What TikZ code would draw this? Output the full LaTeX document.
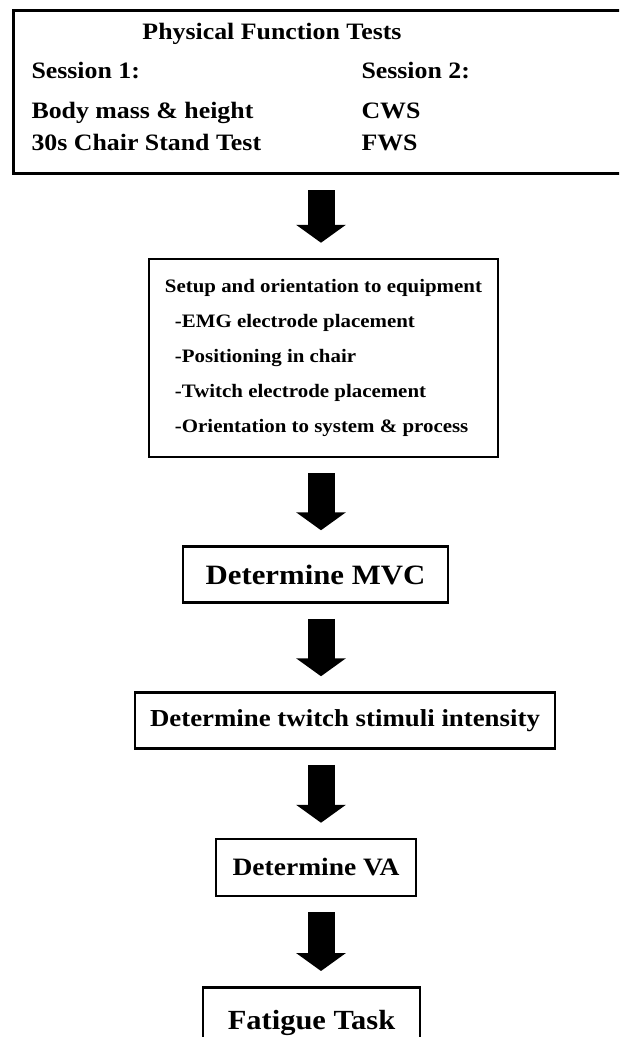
\documentclass[tikz,border=0pt]{standalone}
\usepackage{fontspec}
\setmainfont[FakeStretch=1.1]{Liberation Serif}
\usetikzlibrary{arrows.meta}

\begin{document}
\begin{tikzpicture}[x=1pt, y=-1pt,
  box/.style={draw, line width=2.5pt, inner sep=0pt},
  flowarrow/.style={line width=27pt, -{Triangle[width=49pt, length=18pt]}, shorten <=15pt, shorten >=15pt}]
%
\useasboundingbox (0,0) rectangle (619,1037);
\clip (0,0) rectangle (619,1037);
\coordinate (axis) at (321,0);

% tests of the two sessions
\node[box, line width=3pt, anchor=north west, minimum width=700pt, minimum height=163pt] (tests) at (12,9) {};
\node[font=\fontsize{23.5}{28}\selectfont\bfseries, anchor=base] (title) at (272,39) {Physical Function Tests};
\node[font=\fontsize{23.5}{28}\selectfont\bfseries, anchor=base west] (sone) at (28,78) {Session 1:};
\node[font=\fontsize{23.5}{28}\selectfont\bfseries, anchor=base west] (body) at (28,118) {Body mass \& height};
\node[font=\fontsize{23.5}{28}\selectfont\bfseries, anchor=base west] (chair) at (28,150) {30s Chair Stand Test};
\node[font=\fontsize{23.5}{28}\selectfont\bfseries, anchor=base west] (stwo) at (358,78) {Session 2:};
\node[font=\fontsize{23.5}{28}\selectfont\bfseries, anchor=base west] (cws) at (358,118) {CWS};
\node[font=\fontsize{23.5}{28}\selectfont\bfseries, anchor=base west] (fws) at (358,150) {FWS};

% steps
\node[box, minimum width=349pt, minimum height=198pt, align=left, font=\fontsize{19}{35}\selectfont\bfseries] (setup) at (323.5,358) {
    Setup and orientation to equipment \\
    \hspace*{10pt}-EMG electrode placement \\
    \hspace*{10pt}-Positioning in chair \\
    \hspace*{10pt}-Twitch electrode placement \\
    \hspace*{10pt}-Orientation to system \& process
};
\node[box, minimum width=265pt, minimum height=56pt, font=\fontsize{28}{32}\selectfont\bfseries] (mvc) at (315.5,574.5) {Determine MVC};
\node[box, minimum width=420pt, minimum height=56pt, font=\fontsize{24.4}{28}\selectfont\bfseries] (twitch) at (345,720.5) {Determine twitch stimuli intensity};
\node[box, minimum width=200pt, minimum height=57pt, font=\fontsize{25}{29}\selectfont\bfseries] (va) at (316,867.5) {Determine VA};
\node[box, minimum width=217pt, minimum height=70pt, anchor=north, font=\fontsize{27.7}{31}\selectfont\bfseries, text depth=0pt] (fatigue) at (311.5,986) {\raisebox{4pt}{Fatigue Task}};

% arrows
\draw[flowarrow] (tests.south -| axis) -- (setup.north -| axis);
\draw[flowarrow] (setup.south -| axis) -- (mvc.north -| axis);
\draw[flowarrow] (mvc.south -| axis) -- (twitch.north -| axis);
\draw[flowarrow] (twitch.south -| axis) -- (va.north -| axis);
\draw[flowarrow] (va.south -| axis) -- (fatigue.north -| axis);

\end{tikzpicture}
\end{document}
